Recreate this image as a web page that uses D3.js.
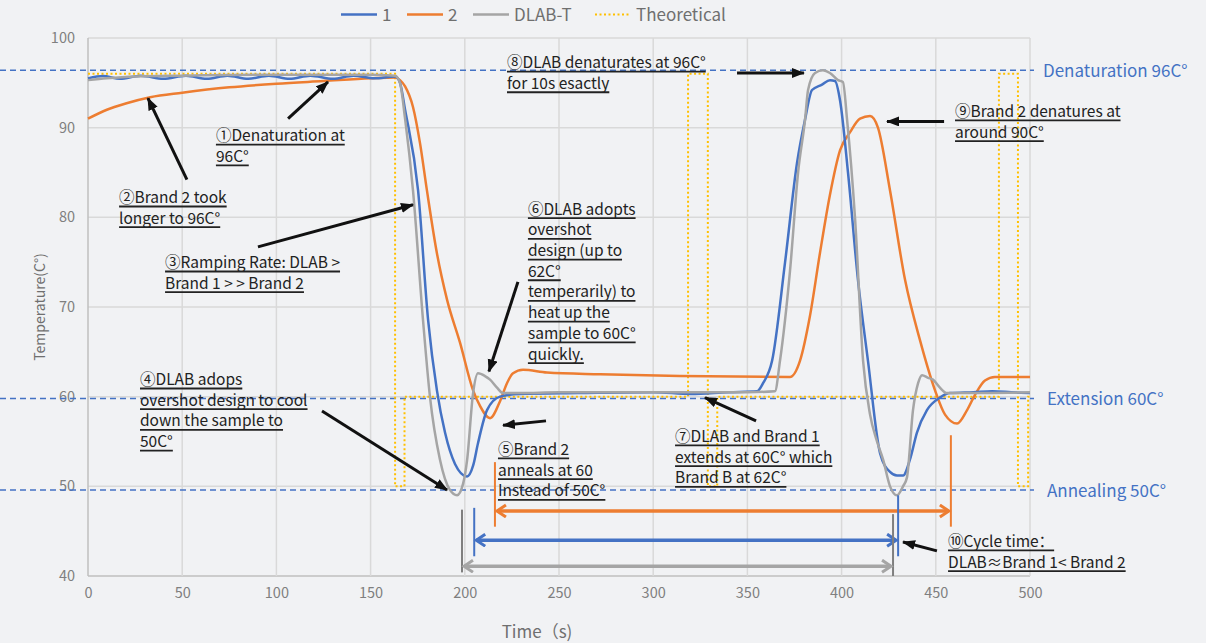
<!DOCTYPE html>
<html>
<head>
<meta charset="utf-8">
<script src="https://cdn.jsdelivr.net/npm/d3@7"></script>
<style>
  body{margin:0;background:#f1f2f4;}
  svg{display:block;font-family:"Noto Sans CJK SC","Noto Sans",sans-serif;}
</style>
</head>
<body>
<svg id="chart" width="1206" height="643"></svg>
<script>
// ---- data: [time (s), temperature (C)] ----
var series1 = [[0,95.5],[8,95.75],[17,95.45],[28,95.8],[40,95.45],[52,95.8],[63,95.45],[74,95.8],[85,95.45],[96,95.8],
  [107,95.45],[118,95.8],[130,95.45],[141,95.8],[152,95.5],[163,95.7],[165.6,95.0],[168.3,92],[175.2,83],[180.5,68.6],
  [185.2,60.7],[189.5,56],[194.8,52.5],[201.2,51.1],[204.4,52.3],[207,54.8],[211.8,58.5],[218.7,60],[229.3,60.3],
  [260,60.4],[300,60.5],[320,60.3],[340,60.5],[355.1,60.6],[358.3,61.5],[363.1,64],[370,75],[376.3,86],[380.6,90.9],
  [384.3,94.2],[389.6,94.8],[393.8,95.3],[396.5,95.2],[399.2,93],[403.4,85],[408.7,73],[414,64],[420.4,53.7],
  [425.7,51.6],[429.4,51.2],[432.6,51.2],[436.3,53],[440,56],[445.3,58.5],[452.2,59.9],[457.5,60.4],[470,60.5],
  [480,60.6],[490,60.5],[500,60.4]];
var series2 = [[0,91.0],[10,92.0],[20,92.7],[33,93.4],[50,93.9],[75,94.5],[100,94.9],[125,95.2],[150,95.5],[163,95.6],
  [165.6,95.3],[168.3,94.6],[172.5,92.3],[176.2,88.3],[179.9,83],[185.2,76],[190.6,70.8],[197.5,66],[204.4,60.7],
  [208,59],[213.4,57.6],[218.7,59.5],[222.4,61.5],[225.6,62.6],[230.9,63],[243.6,62.7],[271.8,62.5],[314.2,62.3],
  [372.6,62.2],[377.9,64],[383.2,69],[388.5,76],[393.8,82.5],[399.2,87.5],[404.5,89.5],[409.8,91],[415.1,91.3],
  [419.3,90],[425.7,83],[433.7,73],[441.6,66.3],[449.6,60.7],[454.9,58],[461.3,57],[466.6,58.5],[470.8,60.2],
  [476.1,61.8],[481.4,62.2],[500,62.2]];
var seriesDLAB = [[0,95.3],[10,95.5],[25,95.7],[50,95.8],[100,95.9],[150,95.9],[163,95.8],[165.6,95.0],[168.3,91],
  [172.5,83],[177.8,68.6],[181.5,60],[186.8,53],[192.1,49.6],[195.9,49.0],[199.1,50.3],[201.2,52.9],[204.4,60.4],
  [207,62.6],[210.7,62.3],[213.4,61.9],[217.1,61],[220.3,60.4],[229.3,60.4],[250,60.5],[300,60.5],[350,60.5],
  [364.6,60.6],[367.3,64],[372.6,74],[376.9,85],[380.6,90.9],[382.2,94.2],[385.9,96.1],[390.1,96.4],[393.8,96.1],
  [398.1,95.3],[400.7,95.1],[402.9,90.9],[407.1,80],[411.4,64],[415.1,58],[418.8,55],[422,53],[425.7,50],
  [429.4,49],[432.6,50],[434.7,51],[437.9,58.5],[440.6,61.5],[442.7,62.4],[445.9,62.1],[448.5,61.9],[452.2,61],
  [455.9,60.4],[462.8,60.4],[500,60.5]];
var theoretical = [[0,96],[163,96],[163,50],[168,50],[168,60],[318.5,60],[318.5,96],[329,96],[329,50],[334,50],
  [334,60],[483.5,60],[483.5,96],[493.6,96],[493.6,50],[499,50],[499,60],[500,60]];

var seriesNames = ['1','2','DLAB-T','Theoretical'];
var xTicks = [0,50,100,150,200,250,300,350,400,450,500];
var yTicks = [40,50,60,70,80,90,100];

// reference levels and labels
var refValues = [96.4, 59.8, 49.6];
var refLabels = ['Denaturation 96C°','Extension 60C°','Annealing 50C°'];

// cycle time markers: start, end, arrow level, [start line top, bottom], [end line top, bottom]
var cycleOrange = [216, 458, 47.25, [52.7,45.5], [55.7,45.5]];
var cycleBlue   = [205, 430, 44.0, [47.6,42.2], [49.0,42.2]];
var cycleGray   = [198.5, 427.3, 41.1, [47.4,40.4], [46.9,40.0]];

// annotation texts: [time, temp of first baseline, lines]
var notes = [
  [67.9, 88.5, ['①Denaturation at','96C°']],
  [16.5, 81.6, ['②Brand 2 took','longer to 96C°']],
  [40.9, 74.35, ['③Ramping Rate: DLAB >','Brand 1 >  > Brand 2']],
  [27.6, 61.3, ['④DLAB adops','overshot design to cool','down the sample to','50C°']],
  [217.6, 53.5, ['⑤Brand 2','anneals at 60','Instead of 50C°']],
  [233.5, 80.3, ['⑥DLAB adopts','overshot','design (up to','62C°','temperarily) to','heat up the','sample to 60C°','quickly.']],
  [311.6, 54.95, ['⑦DLAB and Brand 1','extends at 60C° which','Brand B at 62C°']],
  [222.4, 96.65, ['⑧DLAB denaturates at 96C°','for 10s esactly']],
  [460.2, 91.2, ['⑨Brand 2 denatures at','around 90C°']],
  [456.5, 43.25, ['⑩Cycle time：','DLAB≈Brand 1< Brand 2']]
];
// annotation arrows: tail -> head
var noteArrows = [
  [[106.2,91.0],[127.4,95.1]],
  [[52.5,84.2],[31.8,93.3]],
  [[90.2,76.7],[172.5,81.4]],
  [[124.2,58.4],[190.6,49.6]],
  [[243.1,57.3],[220.3,56.8]],
  [[228.2,72.8],[212.8,62.8]],
  [[354.6,57.3],[327.5,59.9]],
  [[344.5,96.1],[380.0,96.1]],
  [[454.4,90.7],[424.1,90.7]],
  [[450.6,42.8],[432.6,43.8]]
];

(function(){
var colors = {blue:'#4472c4', orange:'#ed7d31', gray:'#a5a5a5', gold:'#ffc000'};

var svg = d3.select('#chart');
var pLeft = 88, pRight = 1030, pTop = 38, pBottom = 576;
var x = d3.scaleLinear().domain([0,500]).range([pLeft,pRight]);
var y = d3.scaleLinear().domain([40,100]).range([pBottom,pTop]);

var defs = svg.append('defs');
defs.append('marker').attr('id','headBlack')
  .attr('markerUnits','userSpaceOnUse').attr('markerWidth',14).attr('markerHeight',12)
  .attr('refX',12).attr('refY',5).attr('orient','auto')
  .append('path').attr('d','M0,0 L13,5 L0,10 Z').attr('fill','#111');
[['Orange',colors.orange],['Blue',colors.blue],['Gray',colors.gray]].forEach(function(c){
  defs.append('marker').attr('id','chev'+c[0])
    .attr('markerUnits','userSpaceOnUse').attr('markerWidth',16).attr('markerHeight',16)
    .attr('refX',11).attr('refY',7).attr('orient','auto-start-reverse')
    .append('path').attr('d','M2,1 L11,7 L2,13').attr('fill','none')
    .attr('stroke',c[1]).attr('stroke-width',3);
});

// grid
var grid = svg.append('g');
grid.selectAll('.hg').data(yTicks).enter().append('line')
  .attr('x1',pLeft).attr('x2',pRight).attr('y1',y).attr('y2',y)
  .attr('stroke',function(d){return d==40?'#bfbfbf':'#d9d9d9';}).attr('stroke-width',1.5);
grid.selectAll('.vg').data(xTicks).enter().append('line')
  .attr('y1',pTop).attr('y2',pBottom).attr('x1',x).attr('x2',x)
  .attr('stroke',function(d){return d==0?'#bfbfbf':'#d9d9d9';}).attr('stroke-width',1.5);

// axes
var xAxis = svg.append('g').attr('transform','translate(0,'+pBottom+')')
  .call(d3.axisBottom(x).tickValues(xTicks).tickSize(0).tickPadding(12).tickFormat(d3.format('d')));
var yAxis = svg.append('g').attr('transform','translate('+pLeft+',0)')
  .call(d3.axisLeft(y).tickValues(yTicks).tickSize(0).tickPadding(13).tickFormat(d3.format('d')));
[xAxis,yAxis].forEach(function(a){
  a.select('.domain').remove();
  a.selectAll('text').attr('fill','#7f7f7f').style('font-size','14.5px').style('font-family','"Noto Sans CJK SC",sans-serif');
});
svg.append('text').attr('x',537).attr('y',638).attr('text-anchor','middle')
  .attr('fill','#6f6f6f').style('font-size','17px').text('Time（s)');
svg.append('text').attr('transform','translate(45,307) rotate(-90)').attr('text-anchor','middle')
  .attr('fill','#6f6f6f').style('font-size','14px').text('Temperature(C°)');

// reference dashed lines
refValues.forEach(function(v,i){
  svg.append('line').attr('x1',0).attr('x2',pRight+4).attr('y1',y(v)).attr('y2',y(v))
    .attr('stroke',colors.blue).attr('stroke-width',1.5).attr('stroke-dasharray','6,4');
  svg.append('text').attr('x',pRight+(i==0?13:17)).attr('y',y(v)+7).attr('fill',colors.blue)
    .style('font-size','17px').text(refLabels[i]);
});

// series
var line = d3.line().x(function(d){return x(d[0]);}).y(function(d){return y(d[1]);});
var smooth = d3.line().curve(d3.curveMonotoneX).x(function(d){return x(d[0]);}).y(function(d){return y(d[1]);});
svg.append('path').datum(theoretical).attr('d',line).attr('fill','none')
  .attr('stroke',colors.gold).attr('stroke-width',2).attr('stroke-dasharray','2,2.5');
svg.append('path').datum(series2).attr('d',smooth).attr('fill','none').attr('stroke',colors.orange).attr('stroke-width',2.5);
svg.append('path').datum(series1).attr('d',smooth).attr('fill','none').attr('stroke',colors.blue).attr('stroke-width',2.5);
svg.append('path').datum(seriesDLAB).attr('d',smooth).attr('fill','none').attr('stroke',colors.gray).attr('stroke-width',2.5);

// cycle time markers
function drawCycle(c, color, name, tickColor){
  var g = svg.append('g');
  g.append('line').attr('x1',x(c[0])).attr('x2',x(c[0])).attr('y1',y(c[3][0])).attr('y2',y(c[3][1]))
    .attr('stroke',tickColor).attr('stroke-width',2);
  g.append('line').attr('x1',x(c[1])).attr('x2',x(c[1])).attr('y1',y(c[4][0])).attr('y2',y(c[4][1]))
    .attr('stroke',tickColor).attr('stroke-width',2);
  g.append('line').attr('x1',x(c[0])+2).attr('x2',x(c[1])-2).attr('y1',y(c[2])).attr('y2',y(c[2]))
    .attr('stroke',color).attr('stroke-width',3.5)
    .attr('marker-start','url(#chev'+name+')').attr('marker-end','url(#chev'+name+')');
}
drawCycle(cycleOrange, colors.orange, 'Orange', colors.orange);
drawCycle(cycleBlue, colors.blue, 'Blue', colors.blue);
drawCycle(cycleGray, colors.gray, 'Gray', '#7f7f7f');

// annotation arrows
svg.selectAll('.noteArrow').data(noteArrows).enter().append('line')
  .attr('x1',function(d){return x(d[0][0]);}).attr('y1',function(d){return y(d[0][1]);})
  .attr('x2',function(d){return x(d[1][0]);}).attr('y2',function(d){return y(d[1][1]);})
  .attr('stroke','#111').attr('stroke-width',3).attr('marker-end','url(#headBlack)');

// annotation text, underlined
notes.forEach(function(n){
  var x0 = x(n[0]), y0 = y(n[1]);
  n[2].forEach(function(s,i){
    var t = svg.append('text').attr('x',x0).attr('y',y0+i*20.7).attr('fill','#222')
      .style('font-size','15.5px').text(s);
    var w = t.node().getComputedTextLength();
    svg.append('line').attr('x1',x0).attr('x2',x0+w).attr('y1',y0+i*20.7+3.5).attr('y2',y0+i*20.7+3.5)
      .attr('stroke','#222').attr('stroke-width',1.8);
  });
});

// legend
var legend = [[341,colors.blue,null],[407,colors.orange,null],[473,colors.gray,null],[595,colors.gold,'2,2.5']];
legend.forEach(function(l,i){
  svg.append('line').attr('x1',l[0]).attr('x2',l[0]+36).attr('y1',14.5).attr('y2',14.5)
    .attr('stroke',l[1]).attr('stroke-width',l[2]?2:2.5).attr('stroke-dasharray',l[2]);
  svg.append('text').attr('x',l[0]+41).attr('y',21).attr('fill','#6f6f6f')
    .style('font-size','17px').text(seriesNames[i]);
});
})();
</script>
</body>
</html>
